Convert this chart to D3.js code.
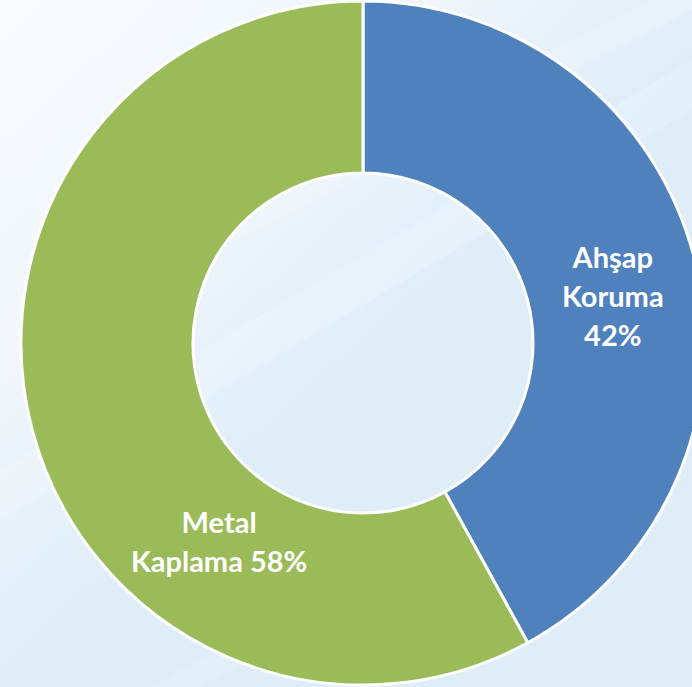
<!DOCTYPE html>
<html>
<head>
<meta charset="utf-8">
<script src="https://cdn.jsdelivr.net/npm/d3@7"></script>
<style>
  html, body { margin: 0; padding: 0; overflow: hidden; }
  #chart { width: 692px; height: 687px; }
</style>
</head>
<body>
<div id="chart"></div>
<script>
// slice data
var categories = ['Ahşap Koruma', 'Metal Kaplama'];
var values = [42, 58];
var colors = ['#4F81BD', '#9BBB59'];
// label lines per slice
var labelLines = [['Ahşap', 'Koruma', '42%'], ['Metal', 'Kaplama 58%']];

var width = 692;
var height = 687;
var cx = 363, cy = 343;
var outerR = 342;
var innerR = 170;

var svg = d3.select('#chart').append('svg')
            .attr('width', width)
            .attr('height', height);

// background: whitish top-left fading into light blue
var defs = svg.append('defs');
var bg = defs.append('linearGradient')
             .attr('id', 'bg')
             .attr('x1', '0').attr('y1', '0')
             .attr('x2', '0.5').attr('y2', '0.55');
bg.append('stop').attr('offset', '0').attr('stop-color', '#f8fbfe');
bg.append('stop').attr('offset', '0.5').attr('stop-color', '#f2f7fc');
bg.append('stop').attr('offset', '1').attr('stop-color', '#dfedf8');

svg.append('rect')
   .attr('width', width)
   .attr('height', height)
   .attr('fill', 'url(#bg)');

// faint light streaks
var streaks = [
  [[0, 470], [692, 60], [692, 110], [0, 520]],
  [[0, 330], [692, -20], [692, 10], [0, 360]],
  [[150, 687], [692, 400], [692, 430], [200, 687]]
];
svg.selectAll('polygon.streak').data(streaks)
   .enter().append('polygon')
   .attr('class', 'streak')
   .attr('points', function(d){ return d.map(function(p){ return p.join(','); }).join(' '); })
   .attr('fill', '#ffffff')
   .attr('opacity', 0.18);

var pie = d3.pie().sort(null).value(function(d){ return d; });
var arc = d3.arc().innerRadius(innerR).outerRadius(outerR);

var g = svg.append('g').attr('transform', 'translate(' + cx + ',' + cy + ')');

var arcs = pie(values);

g.selectAll('path').data(arcs)
  .enter().append('path')
  .attr('d', arc)
  .attr('fill', function(d, i){ return colors[i]; })
  .attr('stroke', '#ffffff')
  .attr('stroke-width', 3);

// label placement: polar offsets from the centre (angle in degrees clockwise from top)
var labelAngle = [79.6, 215.8];
var labelRadius = [254, 246];
var lineH = 39;

arcs.forEach(function(d, i){
  var a = labelAngle[i] * Math.PI / 180;
  var x = labelRadius[i] * Math.sin(a);
  var y = -labelRadius[i] * Math.cos(a);
  var lines = labelLines[i];
  var t = g.append('text')
           .attr('text-anchor', 'middle')
           .attr('fill', '#ffffff')
           .attr('font-family', 'Lato, "Open Sans", sans-serif')
           .attr('font-weight', 'bold')
           .attr('font-size', 29);
  lines.forEach(function(line, j){
    t.append('tspan')
     .attr('x', x)
     .attr('y', y + (j - (lines.length - 1) / 2) * lineH)
     .attr('dy', '0.35em')
     .text(line);
  });
});
</script>
</body>
</html>
